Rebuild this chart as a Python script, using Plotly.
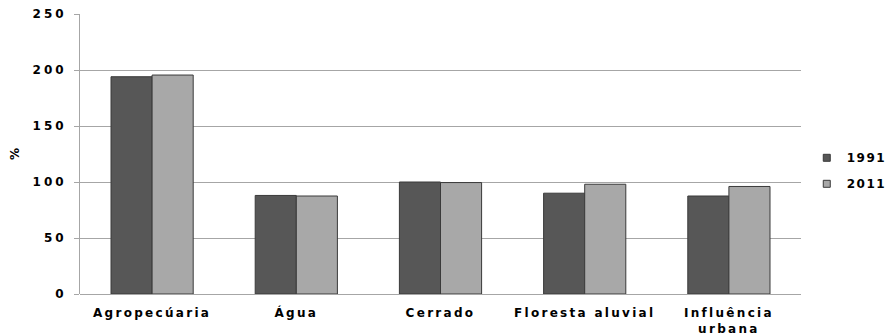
import plotly.graph_objects as go

categories = ["Agropecúaria", "Água", "Cerrado", "Floresta aluvial", "Influência<br>urbana"]
series_names = ["1991", "2011"]
values_1991 = [194, 88, 100, 90, 87.5]
values_2011 = [195.5, 87.5, 99.5, 98, 96]
y_ticks = [0, 50, 100, 150, 200, 250]
y_title = "%"

colors = ["#575757", "#a8a8a8"]
FONT = "DejaVu Sans"


def spaced(s, px):
    return '<span style="letter-spacing:%spx">%s</span>' % (px, s)


fig = go.Figure()
for name, vals, col in zip(series_names, [values_1991, values_2011], colors):
    fig.add_trace(go.Bar(
        name=name,
        x=categories,
        y=vals,
        legendgroup=name,
        showlegend=False,
        marker=dict(color=col, line=dict(color="#3a3a3a", width=1)),
    ))
    # legend proxy with a small square marker
    fig.add_trace(go.Scatter(
        name=spaced(name, 1.5),
        x=[None], y=[None],
        mode="markers",
        legendgroup=name,
        showlegend=True,
        marker=dict(symbol="square", size=7, color=col, line=dict(color="#3a3a3a", width=1)),
    ))

fig.update_layout(
    width=895,
    height=335,
    margin=dict(l=80, r=94, t=14, b=41, autoexpand=False),
    paper_bgcolor="white",
    plot_bgcolor="white",
    barmode="group",
    bargap=0.43,
    bargroupgap=0,
    font=dict(family=FONT, size=12, color="black", weight="bold"),
    legend=dict(
        x=1.008, xanchor="left", y=0.44, yanchor="middle",
        font=dict(family=FONT, size=12, color="black", weight="bold"),
        itemwidth=30, tracegroupgap=7,
        bgcolor="rgba(0,0,0,0)",
    ),
    xaxis=dict(
        tickmode="array",
        tickvals=categories,
        ticktext=[spaced(c, 2.3) for c in categories],
        showline=False,
        showgrid=False,
        ticks="",
        automargin=False,
        ticklabelstandoff=10,
        tickfont=dict(family=FONT, size=12, color="black", weight="bold"),
    ),
    yaxis=dict(
        range=[0, 250],
        tickmode="array",
        tickvals=y_ticks,
        ticktext=[spaced(str(t), 3) for t in y_ticks],
        showgrid=True,
        gridcolor="#a6a6a6",
        gridwidth=1,
        showline=True,
        linecolor="#a6a6a6",
        linewidth=1,
        ticks="outside",
        ticklen=5,
        tickcolor="#a6a6a6",
        zeroline=True,
        zerolinecolor="#a6a6a6",
        zerolinewidth=1,
        automargin=False,
        ticklabelstandoff=5,
        tickfont=dict(family=FONT, size=12, color="black", weight="bold"),
    ),
    annotations=[dict(
        text=y_title, textangle=-90, showarrow=False,
        xref="paper", yref="paper", x=-0.09, y=0.5,
        xanchor="center", yanchor="middle",
        font=dict(family=FONT, size=12, color="black", weight="bold"),
    )],
)

fig.write_html("out.html")
